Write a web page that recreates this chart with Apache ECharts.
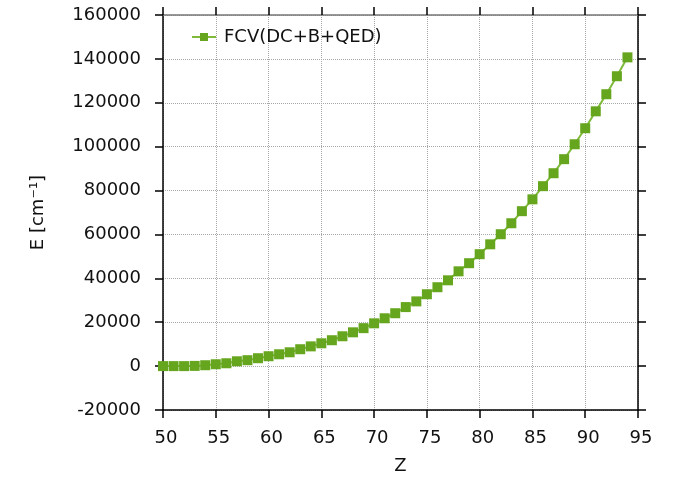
<!DOCTYPE html>
<html lang="en">
<head>
    <meta charset="UTF-8">
    <title>FCV(DC+B+QED)</title>
    <style>
        html, body { margin: 0; padding: 0; background: #fff; }
        #main { width: 673px; height: 485px; }
    </style>
</head>
<body>
    <div id="main"></div>
    <script src="https://cdn.jsdelivr.net/npm/echarts@6/dist/echarts.min.js"></script>
    <script>
        // data
        var zValues = [50, 51, 52, 53, 54, 55, 56, 57, 58, 59,
                       60, 61, 62, 63, 64, 65, 66, 67, 68, 69,
                       70, 71, 72, 73, 74, 75, 76, 77, 78, 79,
                       80, 81, 82, 83, 84, 85, 86, 87, 88, 89,
                       90, 91, 92, 93, 94];
        var energy = [0, 0, 0, 100, 400, 850, 1300, 2200, 2700, 3600,
                      4500, 5400, 6300, 7700, 9000, 10400, 11800, 13600, 15400, 17300,
                      19500, 21800, 24100, 26900, 29500, 32750, 35950, 39100, 43200, 46900,
                      51000, 55500, 60100, 65100, 70600, 76000, 82000, 87900, 94300, 101100,
                      108400, 116100, 123900, 132100, 140700];
        var seriesName = 'FCV(DC+B+QED)';
        var xMin = 50, xMax = 95, xStep = 5;
        var yMin = -20000, yMax = 160000, yStep = 20000;

        var font = 'DejaVu Sans';
        var points = zValues.map(function (z, i) { return [z, energy[i]]; });
        var plain = function (v) { return String(v); };

        var chart = echarts.init(document.getElementById('main'));
        var gridLine = { show: true, lineStyle: { color: '#aaa', type: 'dotted', width: 1 } };
        var option = {
            animation: false,
            backgroundColor: '#fff',
            textStyle: { fontFamily: font },
            grid: { left: 163, right: 35, top: 15, bottom: 75 },
            legend: {
                left: 186, top: 23,
                itemWidth: 24, itemHeight: 10,
                textStyle: { fontFamily: font, fontSize: 18, color: '#111', padding: [0, 0, 0, 3] },
                data: [seriesName]
            },
            xAxis: [{
                type: 'value', min: xMin, max: xMax, interval: xStep,
                name: 'Z', nameLocation: 'middle', nameGap: 47,
                nameTextStyle: { fontFamily: font, fontSize: 18, color: '#111' },
                axisLine: { onZero: false, lineStyle: { color: '#000', width: 1.5 } },
                axisTick: { inside: false, length: 8, lineStyle: { color: '#000', width: 1.5 } },
                axisLabel: { margin: 19, fontFamily: font, fontSize: 18, color: '#111',
                             padding: [0, 0, 0, 6], formatter: plain },
                splitLine: gridLine
            }, {
                type: 'value', min: xMin, max: xMax, interval: xStep, position: 'top',
                axisLine: { onZero: false, lineStyle: { color: '#777', width: 1.5 } },
                axisTick: { length: 8, lineStyle: { color: '#000', width: 1.5 } },
                axisLabel: { show: false },
                splitLine: { show: false }
            }],
            yAxis: [{
                type: 'value', min: yMin, max: yMax, interval: yStep,
                name: 'E [cm\u207B\u00B9]', nameLocation: 'middle', nameGap: 116,
                nameTextStyle: { fontFamily: font, fontSize: 18, color: '#111' },
                axisLine: { onZero: false, lineStyle: { color: '#000', width: 1.5 } },
                axisTick: { length: 8, lineStyle: { color: '#000', width: 1.5 } },
                axisLabel: { margin: 22, fontFamily: font, fontSize: 18, color: '#111', formatter: plain },
                splitLine: gridLine
            }, {
                type: 'value', min: yMin, max: yMax, interval: yStep, position: 'right',
                axisLine: { show: true, onZero: false, lineStyle: { color: '#000', width: 1.5 } },
                axisTick: { show: true, length: 8, lineStyle: { color: '#000', width: 1.5 } },
                axisLabel: { show: false },
                splitLine: { show: false }
            }],
            series: [{
                name: seriesName,
                type: 'line',
                data: points,
                symbol: 'rect',
                symbolSize: 10,
                itemStyle: { color: '#66a61e' },
                lineStyle: { color: '#7fba3a', width: 2 }
            }]
        };
        option && chart.setOption(option);
    </script>
</body>
</html>
